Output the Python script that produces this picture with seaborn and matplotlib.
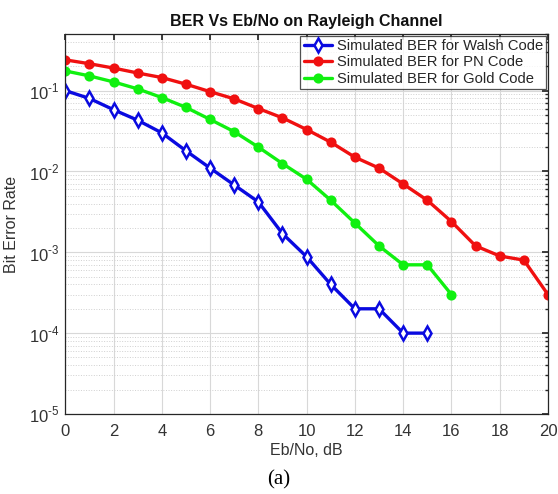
import matplotlib
matplotlib.use("Agg")
import matplotlib.pyplot as plt
import matplotlib.ticker as mticker
import seaborn as sns
import pandas as pd
import numpy as np

# Eb/No points (dB) and simulated bit error rates
ebno_walsh = list(range(0, 16))
ber_walsh = [0.1, 0.08, 0.058, 0.043, 0.03, 0.018, 0.011, 0.0068, 0.0042,
             0.0017, 0.00088, 0.0004, 0.0002, 0.0002, 0.0001, 0.0001]

ebno_pn = list(range(0, 21))
ber_pn = [0.24, 0.215, 0.19, 0.165, 0.145, 0.12, 0.097, 0.079, 0.06, 0.046,
          0.033, 0.023, 0.015, 0.011, 0.007, 0.0044, 0.0024, 0.0012, 0.0009,
          0.0008, 0.0003]

ebno_gold = list(range(0, 17))
ber_gold = [0.175, 0.152, 0.128, 0.105, 0.082, 0.062, 0.044, 0.031, 0.02,
            0.0125, 0.008, 0.0044, 0.0023, 0.0012, 0.0007, 0.0007, 0.0003]

labels = ["Simulated BER for Walsh Code", "Simulated BER for PN Code",
          "Simulated BER for Gold Code"]

sns.set_theme(style="white")
plt.rcParams["font.family"] = ["Liberation Sans", "DejaVu Sans"]
plt.rcParams["mathtext.fontset"] = "custom"
plt.rcParams["mathtext.rm"] = "Liberation Sans"

fig = plt.figure(figsize=(5.58, 4.94), dpi=100)
ax = fig.add_axes([0.117, 0.162, 0.865, 0.769])

series = [
    (ebno_walsh, ber_walsh, labels[0], "#0a0ae0", "d", "white", 7.5),
    (ebno_pn, ber_pn, labels[1], "#f01010", "o", "#f01010", 5.5),
    (ebno_gold, ber_gold, labels[2], "#10f010", "o", "#10f010", 5.5),
]
for x, y, lab, col, mk, fc, ms in series:
    df = pd.DataFrame({"x": x, "y": y})
    sns.lineplot(data=df, x="x", y="y", ax=ax, color=col, linewidth=2.4,
                 marker=mk, markersize=ms,
                 markerfacecolor=fc, markeredgecolor=col,
                 markeredgewidth=1.8, label=lab)

ax.set_yscale("log")
ax.set_xlim(0, 20)
ax.set_ylim(1e-5, 0.5)
ax.set_xticks(range(0, 21, 2))
ax.yaxis.set_major_locator(mticker.LogLocator(base=10, numticks=10))
ax.yaxis.set_major_formatter(
    mticker.FuncFormatter(lambda v, p: r"$\mathrm{10}^{\text{-%d}}$" % round(-np.log10(v))))
ax.yaxis.set_minor_locator(mticker.LogLocator(base=10, subs=np.arange(2, 10), numticks=10))
ax.yaxis.set_minor_formatter(mticker.NullFormatter())

ax.grid(True, which="major", color="#d8d8d8", linewidth=0.8, linestyle="-")
ax.grid(True, which="minor", axis="y", color="#d0d0d0", linewidth=0.7, linestyle=":")
ax.set_axisbelow(True)

for s in ax.spines.values():
    s.set_color("#262626")
    s.set_linewidth(0.9)
ax.tick_params(which="both", direction="in", top=True, right=True,
               colors="#262626", labelcolor="#333333")
ax.tick_params(axis="x", labelsize=12, pad=7)
ax.tick_params(axis="y", labelsize=12, pad=4)
ax.tick_params(which="major", length=4)
ax.tick_params(which="minor", length=2)

ax.set_xlabel("Eb/No, dB", fontsize=11.5, color="#333333", labelpad=3)
ax.set_ylabel("Bit Error Rate", fontsize=11.5, color="#333333")
ax.yaxis.set_label_coords(-0.096, 0.5)
ax.set_title("BER Vs Eb/No on Rayleigh Channel", fontsize=11.5, fontweight="bold",
             color="#111111", pad=6)

leg = ax.legend(loc="upper right", fontsize=10.6, frameon=True, fancybox=False,
                borderpad=0.25, labelspacing=0.15, handlelength=1.9,
                handletextpad=0.3, borderaxespad=0.1)
leg.get_frame().set_edgecolor("#262626")
leg.get_frame().set_linewidth(0.9)

fig.text(0.5, 0.028, "(a)", ha="center", va="center", fontsize=15,
         family=["Liberation Serif", "DejaVu Serif"], color="black")

fig.savefig("out.png", dpi=100, facecolor="white")
